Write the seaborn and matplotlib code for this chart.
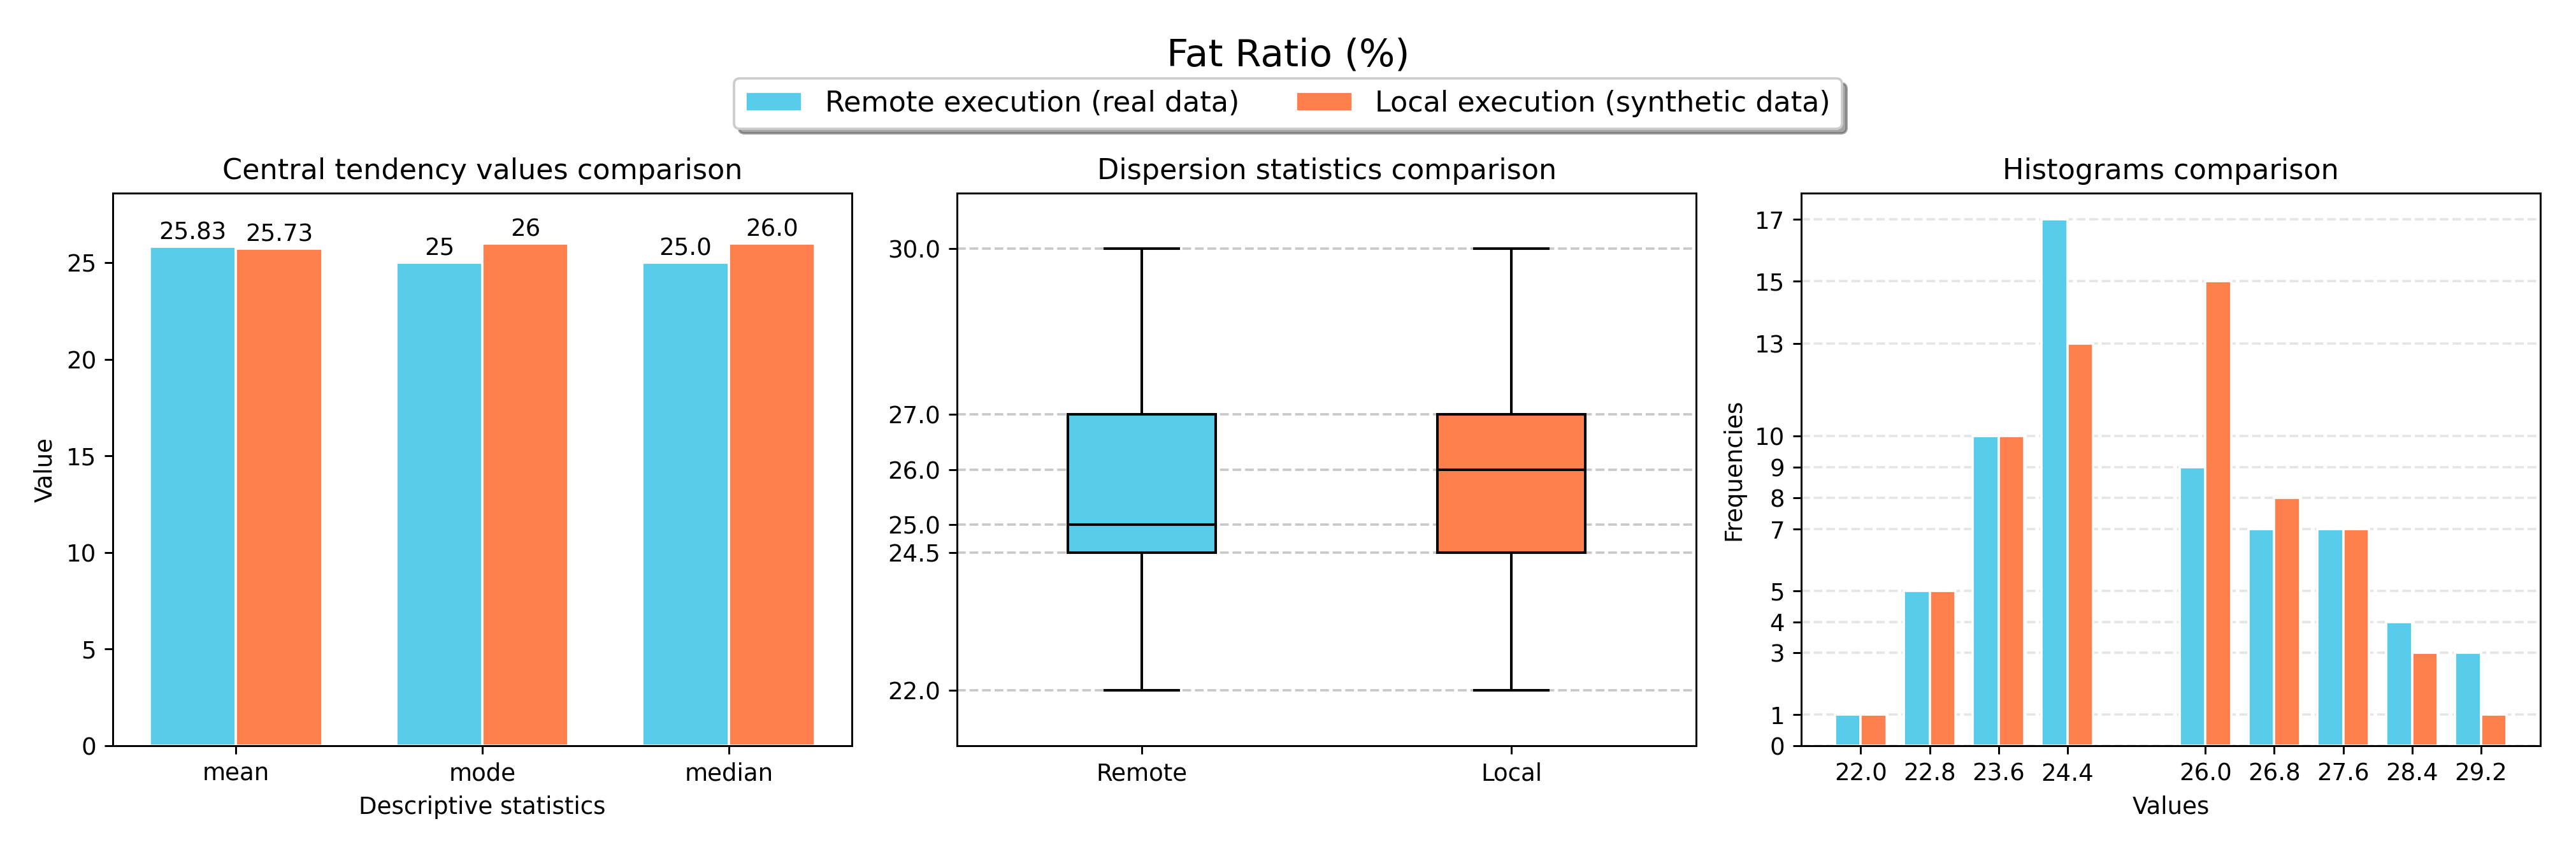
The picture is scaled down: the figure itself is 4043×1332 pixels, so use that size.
import matplotlib
matplotlib.use("Agg")
import matplotlib.pyplot as plt
import seaborn as sns
import pandas as pd
import numpy as np

# ---------------- data ----------------
series_names = ["Remote execution (real data)", "Local execution (synthetic data)"]
colors = ["#57CDEB", "#FF7F4D"]

stat_names = ["mean", "mode", "median"]
remote_central = [25.83, 25, 25.0]
local_central = [25.73, 26, 26.0]
remote_central_labels = ["25.83", "25", "25.0"]
local_central_labels = ["25.73", "26", "26.0"]

box_groups = ["Remote", "Local"]
# five-number summaries (min, Q1, median, Q3, max)
remote_box = [22.0, 24.5, 25.0, 27.0, 30.0]
local_box = [22.0, 24.5, 26.0, 27.0, 30.0]
box_yticks = [22.0, 24.5, 25.0, 26.0, 27.0, 30.0]

hist_bins = [22.0, 22.8, 23.6, 24.4, 26.0, 26.8, 27.6, 28.4, 29.2]
remote_counts = [1, 5, 10, 17, 9, 7, 7, 4, 3]
local_counts = [1, 5, 10, 13, 15, 8, 7, 3, 1]
hist_yticks = [0, 1, 3, 4, 5, 7, 8, 9, 10, 13, 15, 17]

# ---------------- figure ----------------
DPI = 267
fig, axes = plt.subplots(1, 3, figsize=(4043 / DPI, 1332 / DPI), dpi=DPI)
fig.subplots_adjust(left=0.0438, right=0.9862, bottom=0.1216, top=0.7725, wspace=0.1422)
palette = dict(zip(series_names, colors))

# ---- central tendency ----
ax = axes[0]
df_c = pd.DataFrame({
    "stat": stat_names * 2,
    "value": remote_central + local_central,
    "series": [series_names[0]] * 3 + [series_names[1]] * 3,
})
sns.barplot(data=df_c, x="stat", y="value", hue="series", order=stat_names,
            hue_order=series_names, palette=palette, width=0.7, errorbar=None,
            edgecolor="white", linewidth=1, saturation=1, ax=ax)
for cont, labs in zip(ax.containers, [remote_central_labels, local_central_labels]):
    ax.bar_label(cont, labels=labs, padding=1, fontsize=10)
ax.set_ylim(0, max(remote_central + local_central) * 1.1)
ax.set_title("Central tendency values comparison", fontsize=12)
ax.set_xlabel("Descriptive statistics")
ax.set_ylabel("Value")
handles, labels = ax.get_legend_handles_labels()
ax.get_legend().remove()

# ---- dispersion ----
ax = axes[1]
df_b = pd.DataFrame({
    "group": [box_groups[0]] * len(remote_box) + [box_groups[1]] * len(local_box),
    "val": remote_box + local_box,
})
sns.boxplot(data=df_b, x="group", y="val", hue="group", order=box_groups,
            palette=dict(zip(box_groups, colors)), width=0.4, linecolor="black",
            linewidth=1.1, saturation=1, legend=False, ax=ax)
ax.set_ylim(21, 31)
ax.set_yticks(box_yticks)
ax.set_yticklabels([f"{v:.1f}" for v in box_yticks])
ax.yaxis.grid(True, linestyle="--", color="#bbbbbb", alpha=0.8, linewidth=1)
ax.set_axisbelow(True)
ax.set_xlabel("")
ax.set_ylabel("")
ax.set_title("Dispersion statistics comparison", fontsize=12)

# ---- histograms ----
ax = axes[2]
df_h = pd.DataFrame({
    "bin": hist_bins * 2,
    "count": remote_counts + local_counts,
    "series": [series_names[0]] * len(hist_bins) + [series_names[1]] * len(hist_bins),
})
sns.barplot(data=df_h, x="bin", y="count", hue="series", hue_order=series_names,
            palette=palette, native_scale=True, width=0.75, errorbar=None,
            edgecolor="white", linewidth=1, saturation=1, legend=False, ax=ax)
ax.set_xticks(hist_bins)
ax.set_xticklabels([f"{b:.1f}" for b in hist_bins])
ax.set_yticks(hist_yticks)
ax.yaxis.grid(True, linestyle="--", color="#cccccc", alpha=0.5, linewidth=1)
ax.set_axisbelow(True)
ax.set_xlabel("Values")
ax.set_ylabel("Frequencies")
ax.set_title("Histograms comparison", fontsize=12)

fig.suptitle("Fat Ratio (%)", fontsize=16, y=0.935, va="center")
fig.legend(handles, labels, loc="center", bbox_to_anchor=(0.5, 0.878), ncol=2,
           fontsize=12, shadow=True, fancybox=True)

fig.savefig("out.png", dpi=DPI)
